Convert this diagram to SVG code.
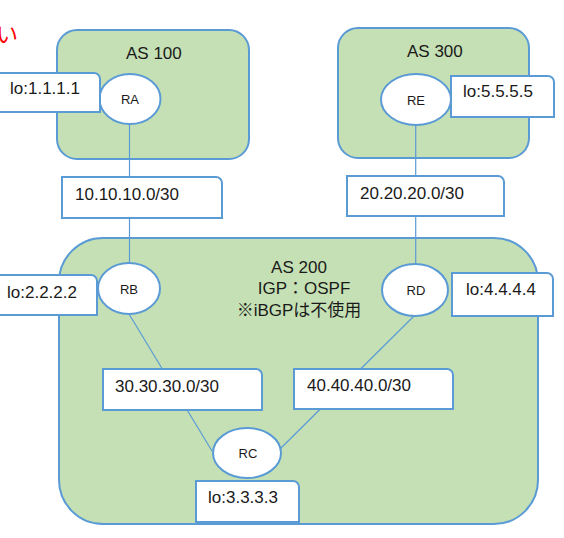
<svg xmlns="http://www.w3.org/2000/svg" width="564" height="538" viewBox="0 0 564 538">
<style>
.as{fill:#C5E0B4;stroke:#5B9BD5;stroke-width:2}
.rt{fill:#FFFFFF;stroke:#5B9BD5;stroke-width:2}
.lb{fill:#FFFFFF;stroke:#5B9BD5;stroke-width:2}
.ln{stroke:#5B9BD5;stroke-width:1.2;fill:none}
text{font-family:"Liberation Sans","Noto Sans CJK JP",sans-serif;fill:#1a1a1a}
.t17{font-size:17px}
.t13{font-size:13px;text-anchor:middle}
.mid{text-anchor:middle}
</style>
<rect width="564" height="538" fill="#FFFFFF"/>
<text x="-4" y="42" style="font-size:22px;fill:#FF0000">い</text>
<g id="as100"><rect class="as" x="57" y="30" width="192" height="129" rx="20"/><text class="t17" x="126" y="59">AS 100</text></g>
<g id="as300"><rect class="as" x="338" y="28" width="191" height="130" rx="20"/><text class="t17" x="407" y="57">AS 300</text></g>
<g id="as200"><rect class="as" x="59" y="238" width="479" height="286" rx="44"/>
<text class="t17 mid" x="299" y="273">AS 200</text>
<text class="t17 mid" x="304" y="294">IGP：OSPF</text>
<text class="t17 mid" x="299" y="316">※iBGPは不使用</text></g>
<g id="connectors">
<line class="ln" x1="129.5" y1="124" x2="129.5" y2="263"/>
<line class="ln" x1="415.7" y1="125" x2="415.7" y2="264"/>
<line class="ln" x1="129" y1="314" x2="212" y2="451"/>
<line class="ln" x1="414" y1="316" x2="277" y2="452"/>
</g>
<g id="RA"><ellipse class="rt" cx="130" cy="99" rx="30.5" ry="25"/><text class="t13" x="130" y="104">RA</text></g>
<g id="RE"><ellipse class="rt" cx="416" cy="99.5" rx="35" ry="25.5"/><text class="t13" x="416" y="104.5">RE</text></g>
<g id="RB"><ellipse class="rt" cx="129" cy="288.5" rx="31" ry="25.5"/><text class="t13" x="129" y="293.5">RB</text></g>
<g id="RD"><ellipse class="rt" cx="415" cy="290" rx="33" ry="26"/><text class="t13" x="416" y="295">RD</text></g>
<g id="RC"><ellipse class="rt" cx="247" cy="453" rx="34" ry="25"/><text class="t13" x="248" y="458">RC</text></g>
<g id="lo1"><path class="lb" d="M-3,73 H94 A6,6 0 0 1 100,79 V112 H-3 Z"/><text class="t17" x="10" y="94">lo:1.1.1.1</text></g>
<g id="lo5"><path class="lb" d="M451,76 H548 A6,6 0 0 1 554,82 V117 H451 Z"/><text class="t17" x="463" y="97">lo:5.5.5.5</text></g>
<g id="net10"><path class="lb" d="M62,177 H216 A6,6 0 0 1 222,183 V218 H62 Z"/><text class="t17" x="75" y="200">10.10.10.0/30</text></g>
<g id="net20"><path class="lb" d="M347,176 H498 A6,6 0 0 1 504,182 V216 H347 Z"/><text class="t17" x="360" y="198.5">20.20.20.0/30</text></g>
<g id="lo2"><path class="lb" d="M-3,275 H91 A6,6 0 0 1 97,281 V315 H-3 Z"/><text class="t17" x="7" y="297.5">lo:2.2.2.2</text></g>
<g id="lo4"><path class="lb" d="M452,273 H547 A6,6 0 0 1 553,279 V316 H452 Z"/><text class="t17" x="466" y="294.5">lo:4.4.4.4</text></g>
<g id="net30"><path class="lb" d="M103,369 H256 A6,6 0 0 1 262,375 V410 H103 Z"/><text class="t17" x="115" y="392">30.30.30.0/30</text></g>
<g id="net40"><path class="lb" d="M294,369 H447 A6,6 0 0 1 453,375 V409 H294 Z"/><text class="t17" x="307" y="391">40.40.40.0/30</text></g>
<g id="lo3"><path class="lb" d="M196,481 H293 A6,6 0 0 1 299,487 V522 H196 Z"/><text class="t17" x="208" y="502.5">lo:3.3.3.3</text></g>
</svg>
